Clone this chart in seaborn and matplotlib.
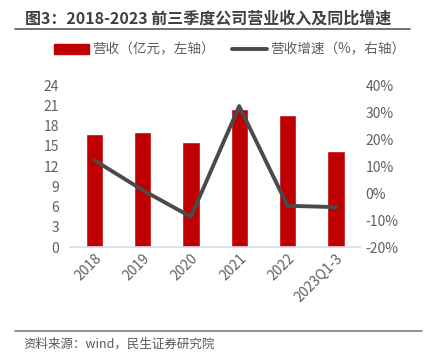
import pandas as pd
import seaborn as sns
import matplotlib.pyplot as plt
from matplotlib.patches import Patch
from matplotlib.lines import Line2D

# data
years = ['2018', '2019', '2020', '2021', '2022', '2023Q1-3']
revenue = [16.8, 17.0, 15.5, 20.5, 19.6, 14.3]        # 亿元
growth = [12.2, 1.1, -8.8, 32.2, -4.7, -5.2]           # %

df = pd.DataFrame({'year': years, 'revenue': revenue, 'growth': growth})

sns.set_style('white')
plt.rcParams['font.family'] = ['Noto Sans CJK SC', 'DejaVu Sans']

grey = '#606060'
fig = plt.figure(figsize=(4.25, 3.56), dpi=100)
ax = fig.add_axes([0.165, 0.306, 0.682, 0.455])

sns.barplot(x='year', y='revenue', data=df, color='#C00000', width=0.36,
            saturation=1, ax=ax)
ax.set_ylim(0, 24)
ax.set_yticks(range(0, 25, 3))
ax.set_xlim(-0.5, 5.5)
ax.set_xlabel('')
ax.set_ylabel('')
ax.tick_params(axis='y', colors=grey, labelsize=10, length=0, pad=8)
ax.tick_params(axis='x', colors=grey, labelsize=10, length=0, pad=3)
plt.setp(ax.get_xticklabels(), rotation=45, ha='right', rotation_mode='anchor')
for s in ['top', 'right', 'left']:
    ax.spines[s].set_visible(False)
ax.spines['bottom'].set_color('#d9d9d9')
ax.spines['bottom'].set_linewidth(1.2)

ax2 = ax.twinx()
sns.lineplot(x=list(range(len(years))), y=growth, color='#4a4a4a',
             linewidth=2.8, ax=ax2)
ax2.set_ylim(-20, 40)
ax2.set_yticks(range(-20, 41, 10))
ax2.set_yticklabels([f'{v}%' for v in range(-20, 41, 10)])
ax2.tick_params(axis='y', colors=grey, labelsize=10, length=0, pad=4)
for s in ['top', 'right', 'left', 'bottom']:
    ax2.spines[s].set_visible(False)

# title and rules
fig.text(0.058, 0.948, '图3：2018-2023 前三季度公司营业收入及同比增速',
         fontsize=11.5, fontweight='bold', color='#404040', va='center')
fig.add_artist(Line2D([0.035, 0.965], [0.918, 0.918], color='#595959', lw=1.2))
fig.add_artist(Line2D([0.035, 0.993], [0.07, 0.07], color='#7f7f7f', lw=1.2))
fig.text(0.056, 0.032, '资料来源：wind，民生证券研究院', fontsize=9,
         color='#595959', va='center')

handles = [Patch(color='#C00000'), Line2D([], [], color='#4a4a4a', lw=2.8)]
fig.legend(handles, ['营收（亿元，左轴）', '营收增速（%，右轴）'],
           loc='center', bbox_to_anchor=(0.54, 0.86), ncol=2, frameon=False,
           fontsize=9.8, labelcolor=grey, handlelength=2.6, handletextpad=0.2,
           columnspacing=1.3)

plt.savefig('out.png')
